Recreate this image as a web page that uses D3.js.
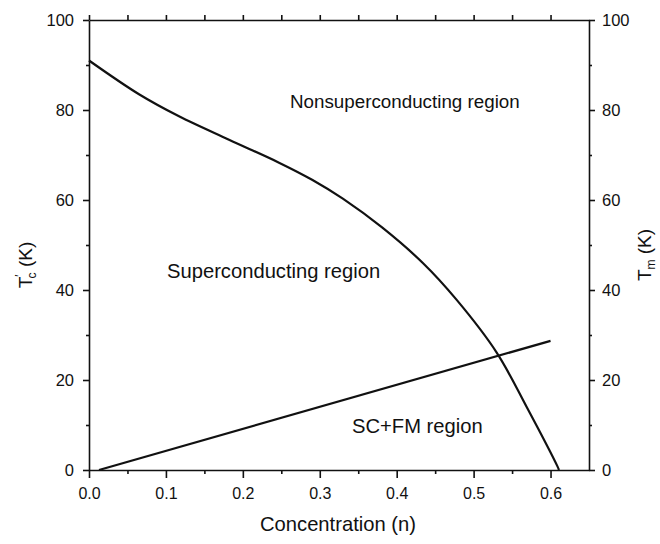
<!DOCTYPE html>
<html>
<head>
<meta charset="utf-8">
<script src="https://cdn.jsdelivr.net/npm/d3@7"></script>
<style>
  body { margin: 0; background: #fff; }
  text { fill: #111; }
  .tick text { font-family: "Liberation Sans", Arial, sans-serif; }
  .lbl { font-family: "Liberation Sans", Arial, sans-serif; }
</style>
</head>
<body>
<div id="chart"></div>
<script>
// data

var tcConc = [0, 0.065, 0.117, 0.182, 0.247, 0.29, 0.33, 0.381, 0.434, 0.478, 0.53, 0.569, 0.609, 0.611];
var tcTemp = [91, 83.5, 78.6, 73.4, 68.3, 64.5, 60.3, 53.9, 46.0, 37.8, 26.1, 14.0, 0.8, 0];

var tmConc = [0.013, 0.6];
var tmTemp = [0, 28.7];

var xTicks = [0, 0.1, 0.2, 0.3, 0.4, 0.5, 0.6];
var yTicks = [0, 20, 40, 60, 80, 100];

var regions = ['Nonsuperconducting region', 'Superconducting region', 'SC+FM region'];


// drawing area

var width = 660,
	height = 544,
	margin = {top: 20, right: 71, bottom: 74, left: 89};

var svg = d3.select('#chart')
	.append('svg')
	.attr('width', width)
	.attr('height', height);

var x = d3.scaleLinear().domain([0, 0.65]).range([margin.left, width - margin.right]);
var y = d3.scaleLinear().domain([0, 100]).range([height - margin.bottom, margin.top]);

var minorX = d3.range(0.05, 0.65, 0.1);
var minorY = d3.range(10, 100, 20);


// axes (major + minor ticks)

var drawAxis = function(axisFn, scale, ticks, minor, size, msize, pad, tx, ty, labels){
	var g = svg.append('g').attr('transform', 'translate(' + tx + ',' + ty + ')');
	g.call(axisFn(scale).tickValues(minor).tickSize(msize).tickFormat(''));
	g.call(function(s){ s.select('.domain').remove(); });
	var g2 = svg.append('g').attr('transform', 'translate(' + tx + ',' + ty + ')');
	g2.call(axisFn(scale).tickValues(ticks).tickSize(size).tickSizeOuter(0).tickPadding(pad)
		.tickFormat(labels ? null : ''));
	svg.selectAll('.domain, .tick line').attr('stroke', '#111').attr('stroke-width', 1.6);
	return g2;
};

var bottom = drawAxis(d3.axisBottom, x, xTicks, minorX, 8, 4, 10, 0, y(0), true);
bottom.selectAll('.tick text').text(function(d){ return d3.format('.1f')(d); }).attr('font-size', 16);

var top = drawAxis(d3.axisBottom, x, xTicks, minorX, -5, -5, 0, 0, y(100), false);

var left = drawAxis(d3.axisLeft, y, yTicks, minorY, 6, 3, 9, x(0), 0, true);
left.selectAll('.tick text').attr('font-size', 16.5);

var right = drawAxis(d3.axisRight, y, yTicks, minorY, 6, 3, 7, x(0.65), 0, true);
right.selectAll('.tick text').attr('font-size', 16.5);

svg.selectAll('.tick text').attr('fill', '#111');


// curves

var tcLine = d3.line()
	.x(function(d, i){ return x(tcConc[i]); })
	.y(function(d, i){ return y(tcTemp[i]); })
	.curve(d3.curveCatmullRom.alpha(0.5));

var tmLine = d3.line()
	.x(function(d, i){ return x(tmConc[i]); })
	.y(function(d, i){ return y(tmTemp[i]); });

svg.append('path')
	.attr('d', tcLine(tcConc))
	.attr('fill', 'none')
	.attr('stroke', '#111')
	.attr('stroke-width', 2.2);

svg.append('path')
	.attr('d', tmLine(tmConc))
	.attr('fill', 'none')
	.attr('stroke', '#111')
	.attr('stroke-width', 2.2);


// region labels

var labelPos = [[290, 108, 18.8], [167, 278, 20.2], [352, 433, 20.2]];
svg.selectAll('text.region').data(regions).enter()
	.append('text')
	.attr('class', 'region lbl')
	.attr('x', function(d, i){ return labelPos[i][0]; })
	.attr('y', function(d, i){ return labelPos[i][1]; })
	.attr('font-size', function(d, i){ return labelPos[i][2]; })
	.text(function(d){ return d; });


// axis titles

svg.append('text')
	.attr('class', 'lbl')
	.attr('x', 338)
	.attr('y', 531)
	.attr('text-anchor', 'middle')
	.attr('font-size', 20.2)
	.text('Concentration (n)');

var yl = svg.append('text')
	.attr('class', 'lbl')
	.attr('transform', 'translate(32,265) rotate(-90)')
	.attr('text-anchor', 'middle')
	.attr('font-size', 19);
yl.append('tspan').text('T');
yl.append('tspan').attr('font-size', 12).attr('dy', -8).text('\u2032');
yl.append('tspan').attr('font-size', 12).attr('dx', -4).attr('dy', 12).text('c');
yl.append('tspan').attr('dy', -4).text(' (K)');

var yr = svg.append('text')
	.attr('class', 'lbl')
	.attr('transform', 'translate(651,255) rotate(-90)')
	.attr('text-anchor', 'middle')
	.attr('font-size', 19);
yr.append('tspan').text('T');
yr.append('tspan').attr('font-size', 12).attr('dy', 4).text('m');
yr.append('tspan').attr('dy', -4).text(' (K)');
</script>
</body>
</html>
